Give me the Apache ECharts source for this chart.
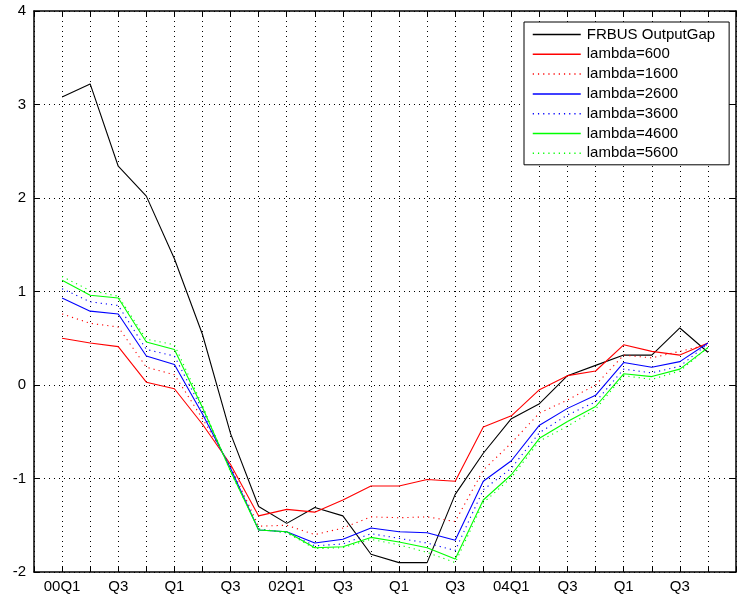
<!DOCTYPE html>
<html>
<head>
<meta charset="utf-8">
<script src="https://cdn.jsdelivr.net/npm/echarts@6/dist/echarts.min.js"></script>
<style>
  html, body { margin: 0; padding: 0; background: #fff; }
  #chart { width: 739px; height: 600px; }
</style>
</head>
<body>
<div id="chart"></div>
<script>
// Quarterly periods, 2000Q1 .. 2005Q4
const quarters = [
  '00Q1','00Q2','00Q3','00Q4','01Q1','01Q2','01Q3','01Q4',
  '02Q1','02Q2','02Q3','02Q4','03Q1','03Q2','03Q3','03Q4',
  '04Q1','04Q2','04Q3','04Q4','05Q1','05Q2','05Q3','05Q4'
];
// Labels written under the quarter ticks
const tickLabels = [
  '00Q1','','Q3','','Q1','','Q3','',
  '02Q1','','Q3','','Q1','','Q3','',
  '04Q1','','Q3','','Q1','','Q3',''
];
const yTicks = [-2, -1, 0, 1, 2, 3, 4];

const frbusGap = [3.08, 3.22, 2.34, 2.02, 1.35, 0.54, -0.52, -1.30, -1.48, -1.31, -1.40, -1.81,
                  -1.90, -1.90, -1.17, -0.73, -0.36, -0.20, 0.10, 0.21, 0.32, 0.32, 0.61, 0.35];
const lambda600 = [0.50, 0.45, 0.41, 0.03, -0.04, -0.42, -0.85, -1.40, -1.33, -1.36, -1.23, -1.08,
                   -1.08, -1.01, -1.03, -0.45, -0.33, -0.05, 0.10, 0.15, 0.43, 0.36, 0.32, 0.45];
const lambda1600 = [0.76, 0.66, 0.62, 0.19, 0.11, -0.36, -0.87, -1.51, -1.50, -1.60, -1.53, -1.41,
                    -1.42, -1.41, -1.46, -0.91, -0.62, -0.30, -0.16, 0.00, 0.32, 0.29, 0.36, 0.43];
const lambda2600 = [0.93, 0.79, 0.76, 0.31, 0.22, -0.31, -0.89, -1.55, -1.57, -1.69, -1.65, -1.53,
                    -1.57, -1.58, -1.66, -1.03, -0.81, -0.43, -0.25, -0.11, 0.24, 0.19, 0.25, 0.45];
const lambda3600 = [1.03, 0.89, 0.85, 0.38, 0.31, -0.27, -0.90, -1.54, -1.58, -1.72, -1.70, -1.59,
                    -1.64, -1.69, -1.77, -1.12, -0.89, -0.51, -0.32, -0.18, 0.17, 0.13, 0.20, 0.44];
const lambda4600 = [1.12, 0.96, 0.93, 0.46, 0.38, -0.24, -0.92, -1.55, -1.57, -1.74, -1.73, -1.63,
                    -1.68, -1.74, -1.86, -1.23, -0.96, -0.57, -0.39, -0.23, 0.12, 0.09, 0.17, 0.40];
const lambda5600 = [1.16, 1.01, 0.95, 0.49, 0.43, -0.22, -0.93, -1.54, -1.58, -1.75, -1.74, -1.65,
                    -1.71, -1.79, -1.90, -1.26, -0.99, -0.60, -0.44, -0.26, 0.10, 0.06, 0.15, 0.40];

const FONT = '"Liberation Sans", Arial, Helvetica, sans-serif';
const DOT = [1, 4];
const DOTTED_SERIES = [1.2, 4];

// name, values, colour, dotted?
const seriesDefs = [
  ['FRBUS OutputGap', frbusGap, '#000000', false],
  ['lambda=600', lambda600, '#ff0000', false],
  ['lambda=1600', lambda1600, '#ff0000', true],
  ['lambda=2600', lambda2600, '#0000ff', false],
  ['lambda=3600', lambda3600, '#0000ff', true],
  ['lambda=4600', lambda4600, '#00ff00', false],
  ['lambda=5600', lambda5600, '#00ff00', true]
];

function pairs(values) {
  return values.map((v, i) => [i, v]);
}

function line(name, values, color, dotted) {
  return {
    name: name,
    type: 'line',
    xAxisIndex: 0,
    data: pairs(values),
    symbol: 'none',
    showSymbol: false,
    animation: false,
    lineStyle: { color: color, width: 1.1, type: dotted ? DOTTED_SERIES : 'solid' },
    itemStyle: { color: color }
  };
}

const chart = echarts.init(document.getElementById('chart'), null, { renderer: 'canvas' });

const xCommon = {
  type: 'value',
  min: -1,
  max: 24,
  interval: 1,
  splitLine: { show: false },
  axisLine: { show: true, onZero: false, lineStyle: { color: '#000', width: 1.5 } },
  axisTick: { show: true, inside: true, length: 5, lineStyle: { color: '#000', width: 1 } }
};

chart.setOption({
  backgroundColor: '#fff',
  animation: false,
  grid: { left: 34, right: -9, top: 11, bottom: 28, containLabel: false },
  legend: {
    orient: 'vertical',
    left: 524,
    top: 22,
    backgroundColor: '#fff',
    borderColor: '#000',
    borderWidth: 1,
    padding: [5, 14, 4, 8],
    itemWidth: 48,
    itemHeight: 14,
    itemGap: 4.8,
    // legend keys show only a line sample, no marker
    itemStyle: { opacity: 0, borderWidth: 0 },
    textStyle: { fontFamily: FONT, fontSize: 15, color: '#000', padding: [0, 0, 0, 1] },
    data: seriesDefs.map(d => ({
      name: d[0],
      lineStyle: { color: d[2], width: 1.5, opacity: 1, type: d[3] ? DOTTED_SERIES : 'solid' }
    }))
  },
  xAxis: [
    Object.assign({}, xCommon, {
      position: 'bottom',
      splitLine: { show: true, lineStyle: { color: '#000', width: 1, type: DOT } },
      axisLabel: {
        show: true,
        margin: 7,
        fontFamily: FONT,
        fontSize: 15,
        color: '#000',
        formatter: function (v) {
          const i = Math.round(v);
          return (i >= 0 && i < tickLabels.length) ? tickLabels[i] : '';
        }
      }
    }),
    Object.assign({}, xCommon, {
      position: 'top',
      axisLabel: { show: false }
    })
  ],
  yAxis: [
    {
      type: 'value',
      min: yTicks[0],
      max: yTicks[yTicks.length - 1],
      interval: 1,
      position: 'left',
      axisLine: { show: true, onZero: false, lineStyle: { color: '#000', width: 1.5 } },
      axisTick: { show: true, inside: true, length: 6, lineStyle: { color: '#000', width: 1 } },
      splitLine: { show: true, lineStyle: { color: '#000', width: 1, type: DOT } },
      axisLabel: { margin: 8, fontFamily: FONT, fontSize: 15, color: '#000' }
    },
    {
      type: 'value',
      min: yTicks[0],
      max: yTicks[yTicks.length - 1],
      interval: 1,
      position: 'right',
      axisLine: { show: true, onZero: false, lineStyle: { color: '#000', width: 1.5 } },
      axisTick: { show: true, inside: true, length: 6 },
      splitLine: { show: false },
      axisLabel: { show: false }
    }
  ],
  series: seriesDefs.map(d => line(d[0], d[1], d[2], d[3]))
});
</script>
</body>
</html>
